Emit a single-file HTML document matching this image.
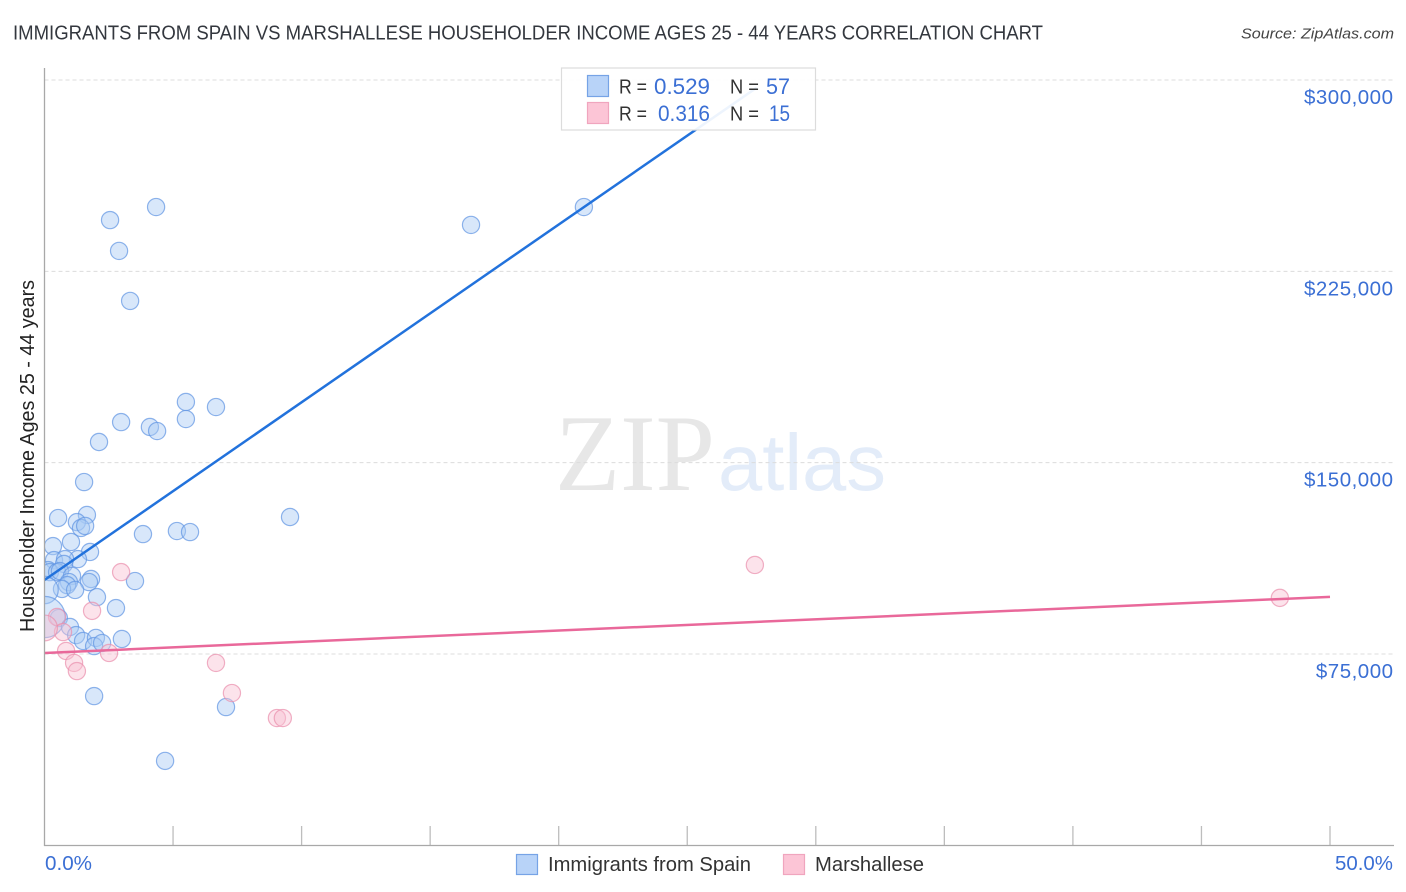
<!DOCTYPE html>
<html lang="en">
<head>
<meta charset="utf-8">
<title>Immigrants from Spain vs Marshallese Householder Income Correlation Chart</title>
<style>
html,body{margin:0;padding:0;background:#fff;width:1406px;height:892px;overflow:hidden}
svg{display:block;font-family:"Liberation Sans",sans-serif}
</style>
</head>
<body>
<svg id="chart" xmlns="http://www.w3.org/2000/svg" width="1406" height="892" viewBox="0 0 1406 892">
  <defs><clipPath id="plot-clip"><rect x="44.5" y="68" width="1350" height="778"/></clipPath></defs>
  <text x="13" y="39.5" font-size="20" fill="#33373e" textLength="1030" lengthAdjust="spacingAndGlyphs">IMMIGRANTS FROM SPAIN VS MARSHALLESE HOUSEHOLDER INCOME AGES 25 - 44 YEARS CORRELATION CHART</text>
  <text x="1394" y="38.5" font-size="15" font-style="italic" fill="#444" text-anchor="end" textLength="153" lengthAdjust="spacingAndGlyphs">Source: ZipAtlas.com</text>
  <g>
    <text x="555" y="490" font-family="'Liberation Serif',serif" font-size="109" fill="#e7e7e7" textLength="160" lengthAdjust="spacingAndGlyphs">ZIP</text>
    <text x="718" y="490" font-size="80" fill="#e3ecf9" textLength="168" lengthAdjust="spacingAndGlyphs">atlas</text>
  </g>
  <g id="grid"></g>
  <g id="xticks"></g>
  <g id="ylabels"></g>
  <g id="points" clip-path="url(#plot-clip)"></g>
  <g id="trends"></g>
  <line x1="44.5" y1="68" x2="44.5" y2="846" stroke="#a8a8a8" stroke-width="1.3"/>
  <line x1="44" y1="845.5" x2="1394" y2="845.5" stroke="#a8a8a8" stroke-width="1.3"/>
  <text transform="translate(34,632) rotate(-90)" font-size="20" fill="#222" textLength="352" lengthAdjust="spacingAndGlyphs">Householder Income Ages 25 - 44 years</text>
  <text x="45" y="870" font-size="20" fill="#3b6fd4" textLength="47" lengthAdjust="spacingAndGlyphs">0.0%</text>
  <text x="1393" y="870" font-size="20" fill="#3b6fd4" text-anchor="end" textLength="58" lengthAdjust="spacingAndGlyphs">50.0%</text>
  <g>
    <rect x="561.5" y="68" width="254" height="62" fill="#fff" fill-opacity="0.92" stroke="#dcdcdc" stroke-width="1.2"/>
    <rect x="587.5" y="75.5" width="21" height="21" fill="#b8d3f8" stroke="#76a3e6" stroke-width="1.2"/>
    <rect x="587.5" y="102.5" width="21" height="21" fill="#fcc5d6" stroke="#f0a5be" stroke-width="1.2"/>
    <text x="619" y="93.5" font-size="20" fill="#333" textLength="28" lengthAdjust="spacingAndGlyphs">R =</text>
    <text x="654" y="94" font-size="22" fill="#3b6fd4" textLength="56" lengthAdjust="spacingAndGlyphs">0.529</text>
    <text x="730" y="93.5" font-size="20" fill="#333" textLength="29" lengthAdjust="spacingAndGlyphs">N =</text>
    <text x="766" y="94" font-size="22" fill="#3b6fd4" textLength="24" lengthAdjust="spacingAndGlyphs">57</text>
    <text x="619" y="120.5" font-size="20" fill="#333" textLength="28" lengthAdjust="spacingAndGlyphs">R =</text>
    <text x="658" y="121" font-size="22" fill="#3b6fd4" textLength="52" lengthAdjust="spacingAndGlyphs">0.316</text>
    <text x="730" y="120.5" font-size="20" fill="#333" textLength="29" lengthAdjust="spacingAndGlyphs">N =</text>
    <text x="769" y="121" font-size="22" fill="#3b6fd4" textLength="21" lengthAdjust="spacingAndGlyphs">15</text>
  </g>
  <g>
    <rect x="516.5" y="854.5" width="21" height="20" fill="#b8d3f8" stroke="#76a3e6" stroke-width="1.2"/>
    <text x="548" y="871" font-size="20" fill="#333" textLength="203" lengthAdjust="spacingAndGlyphs">Immigrants from Spain</text>
    <rect x="783.5" y="854.5" width="21" height="20" fill="#fcc5d6" stroke="#f0a5be" stroke-width="1.2"/>
    <text x="815" y="871" font-size="20" fill="#333" textLength="109" lengthAdjust="spacingAndGlyphs">Marshallese</text>
  </g>
</svg>
<script>
const yTickValues = [75000, 150000, 225000, 300000];
const yTickLabels = ["$75,000", "$150,000", "$225,000", "$300,000"];
const xTickValues = [5, 10, 15, 20, 25, 30, 35, 40, 45, 50];

const spainX = [4.34,2.55,2.90,3.33,16.59,20.98,5.50,5.50,6.67,2.98,4.10,4.38,2.12,1.54,9.55,0.53,1.65,1.26,1.42,1.58,3.83,5.15,5.66,1.03,0.33,1.77,1.30,0.37,0.80,0.76,0.14,0.21,0.49,0.60,1.07,3.52,1.81,1.73,0.95,0.88,0.68,1.19,2.78,2.04,0.00,0.56,0.00,0.99,1.23,1.50,2.00,3.01,1.93,2.24,1.93,7.06,4.69];
const spainIncome = [250200,245100,233000,213400,243200,250200,173800,167100,171800,165900,164000,162400,158100,142400,128700,128300,129500,126700,124400,125200,122000,123200,122800,118900,117300,115000,112200,111800,112200,110300,107900,107100,107100,107500,105600,103600,104400,103200,103200,102000,100500,100100,93000,97300,100100,89100,89500,85600,82400,80100,81300,80900,78100,79300,58500,54200,33100];
const spainWeight = [1,1,1,1,1,1,1,1,1,1,1,1,1,1,1,1,1,1,1,1,1,1,1,1,1,1,1,1,1,1,1,1,1,1,1,1,1,1,1,1,1,1,1,1,1.6,1,2.4,1,1,1,1,1,1,1,1,1,1];

const marshalleseX = [2.98,1.85,0.49,0.72,0.00,0.84,1.15,1.26,2.51,6.67,7.29,9.04,9.27,27.63,48.05];
const marshalleseIncome = [107100,91900,89500,83600,85200,76200,71500,68300,75400,71500,59700,49900,49900,109900,97000];
const marshalleseWeight = [1,1,1,1,1.5,1,1,1,1,1,1,1,1,1,1];

const spainTrendX = [0, 27.7];
const spainTrendIncome = [104000, 297000];
const marshalleseTrendX = [0, 50];
const marshalleseTrendIncome = [75400, 97400];

const NS = "http://www.w3.org/2000/svg";
function xScale(p) { return 44.5 + p * 25.71; }
function yScale(v) { return 654 - (v - 75000) * 191.33 / 75000; }
function make(tag, parentId, attrs) {
  const el = document.createElementNS(NS, tag);
  for (const k in attrs) el.setAttribute(k, attrs[k]);
  document.getElementById(parentId).appendChild(el);
  return el;
}

yTickValues.forEach(function (v, i) {
  const line = make("line", "grid", {x1: 44.5, x2: 1394, y1: yScale(v), y2: yScale(v), stroke: "#dcdcdc", "stroke-width": 1, "stroke-dasharray": "4 3"});
  
  
  const label = make("text", "ylabels", {x: 1393.5, y: yScale(v) + 24, "font-size": 20.5, "letter-spacing": 0.5, fill: "#3b6fd4", "text-anchor": "end"});
  
  
  label.textContent = yTickLabels[i];
});

xTickValues.forEach(function (p) {
  const tick = make("line", "xticks", {x1: xScale(p), x2: xScale(p), y1: 826, y2: 846, stroke: "#bdbdbd", "stroke-width": 1.3});
  
  
});

spainX.forEach(function (p, i) {
  const dot = make("circle", "points", {cx: xScale(p), cy: yScale(spainIncome[i]), r: 8.6 * spainWeight[i], fill: "#a9c9f5", "fill-opacity": 0.45, stroke: "#5f94e2", "stroke-opacity": 0.7, "stroke-width": 1.2});
  
  
});

marshalleseX.forEach(function (p, i) {
  const dot = make("circle", "points", {cx: xScale(p), cy: yScale(marshalleseIncome[i]), r: 8.6 * marshalleseWeight[i], fill: "#f9c0d2", "fill-opacity": 0.45, stroke: "#ea8fad", "stroke-opacity": 0.7, "stroke-width": 1.2});
  
  
});

const spainTrend = make("line", "trends", {x1: xScale(spainTrendX[0]), y1: yScale(spainTrendIncome[0]), x2: xScale(spainTrendX[1]), y2: yScale(spainTrendIncome[1]), stroke: "#2272dc", "stroke-width": 2.5});



const marshalleseTrend = make("line", "trends", {x1: xScale(marshalleseTrendX[0]), y1: yScale(marshalleseTrendIncome[0]), x2: xScale(marshalleseTrendX[1]), y2: yScale(marshalleseTrendIncome[1]), stroke: "#e9689a", "stroke-width": 2.5});


</script>
</body>
</html>
